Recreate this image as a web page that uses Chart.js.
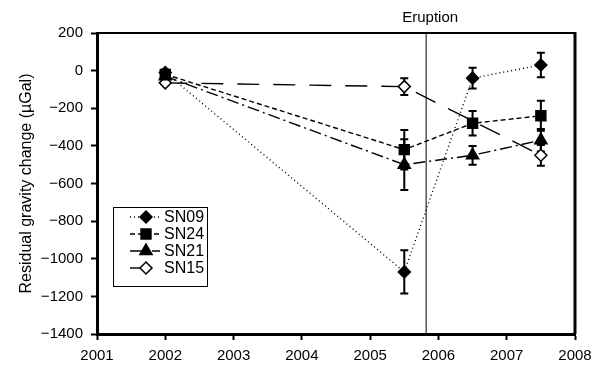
<!DOCTYPE html>
<html>
<head>
<meta charset="utf-8">
<script src="https://cdn.jsdelivr.net/npm/chart.js@4.4.0/dist/chart.umd.min.js"></script>
<style>
  html, body { margin: 0; padding: 0; background: #fff; }
  #wrap { width: 603px; height: 366px; }
</style>
</head>
<body>
<div id="wrap"><canvas id="chart1" width="603" height="366"></canvas></div>
<script>
// values
var years = [2002, 2005.5, 2006.5, 2007.5];
var years15 = [2002, 2005.5, 2007.5];
var sn09 = [-10, -1070, -40, 30];
var sn09err = [15, 115, 55, 65];
var sn24 = [-20, -420, -280, -240];
var sn24err = [15, 105, 65, 80];
var sn21 = [-30, -500, -450, -370];
var sn21err = [15, 135, 50, 60];
var sn15 = [-65, -85, -450];
var sn15err = [10, 45, 55];
var eruptionYear = 2005.82;
var xTicks = [2001, 2002, 2003, 2004, 2005, 2006, 2007, 2008];
var yTicks = [200, 0, -200, -400, -600, -800, -1000, -1200, -1400];

var FONT = "'Liberation Sans', Arial, sans-serif";

function pts(xs, ys) {
	return xs.map(function(x, i) { return { x: x, y: ys[i] }; });
}

var seriesList = [
	{ label: 'SN09', x: years, y: sn09, err: sn09err, dash: [1, 3], style: 'rectRot', r: 6, fill: '#000' },
	{ label: 'SN24', x: years, y: sn24, err: sn24err, dash: [5, 3], style: 'rect', r: 7, fill: '#000' },
	{ label: 'SN21', x: years, y: sn21, err: sn21err, dash: [12, 4, 2, 4], style: 'triangle', r: 7, fill: '#000' },
	{ label: 'SN15', x: years15, y: sn15, err: sn15err, dash: [22, 14], style: 'rectRot', r: 6, fill: '#fff' }
];

var datasets = seriesList.map(function(s) {
	return {
		label: s.label,
		data: pts(s.x, s.y),
		errors: s.err,
		borderColor: '#000',
		borderWidth: 1.4,
		borderDash: s.dash,
		pointStyle: s.style,
		pointRadius: s.r,
		pointHoverRadius: s.r,
		pointBackgroundColor: s.fill,
		pointBorderColor: '#000',
		pointBorderWidth: 1.5,
		fill: false,
		tension: 0
	};
});

// error bars, eruption line, frame and legend box
var extras = {
	id: 'extras',
	beforeDatasetsDraw: function(chart) {
		var ctx = chart.ctx, xs = chart.scales.x, ys = chart.scales.y, a = chart.chartArea;
		ctx.save();
		// eruption marker
		var ex = xs.getPixelForValue(eruptionYear);
		ctx.strokeStyle = '#000';
		ctx.lineWidth = 1;
		ctx.beginPath();
		ctx.moveTo(ex, a.top);
		ctx.lineTo(ex, a.bottom);
		ctx.stroke();
		ctx.fillStyle = '#000';
		ctx.font = '15px ' + FONT;
		ctx.textAlign = 'center';
		ctx.textBaseline = 'bottom';
		ctx.fillText('Eruption', ex + 4, a.top - 8);
		// error bars
		ctx.lineWidth = 2;
		chart.data.datasets.forEach(function(ds) {
			ds.data.forEach(function(p, i) {
				var px = xs.getPixelForValue(p.x);
				var y1 = ys.getPixelForValue(p.y + ds.errors[i]);
				var y2 = ys.getPixelForValue(p.y - ds.errors[i]);
				ctx.beginPath();
				ctx.moveTo(px, y1); ctx.lineTo(px, y2);
				ctx.moveTo(px - 4, y1); ctx.lineTo(px + 4, y1);
				ctx.moveTo(px - 4, y2); ctx.lineTo(px + 4, y2);
				ctx.stroke();
			});
		});
		ctx.restore();
	},
	afterDraw: function(chart) {
		var ctx = chart.ctx, a = chart.chartArea;
		ctx.save();
		ctx.strokeStyle = '#000';
		ctx.lineWidth = 2;
		ctx.beginPath();
		ctx.moveTo(a.left, a.top);
		ctx.lineTo(a.right, a.top);
		ctx.stroke();
		ctx.lineWidth = 3;
		ctx.beginPath();
		ctx.moveTo(a.right, a.top - 1);
		ctx.lineTo(a.right, a.bottom);
		ctx.stroke();

		// legend box
		var bx = 113, by = 207, bw = 94, bh = 79;
		ctx.lineWidth = 1;
		ctx.fillStyle = '#fff';
		ctx.fillRect(bx, by, bw, bh);
		ctx.strokeRect(bx + 0.5, by + 0.5, bw, bh);
		ctx.font = '16px ' + FONT;
		ctx.textAlign = 'left';
		ctx.textBaseline = 'middle';
		chart.data.datasets.forEach(function(ds, i) {
			var ly = 217 + i * 17;
			ctx.setLineDash(ds.borderDash);
			ctx.lineWidth = 1.4;
			ctx.beginPath();
			ctx.moveTo(130, ly);
			ctx.lineTo(160, ly);
			ctx.stroke();
			ctx.setLineDash([]);
			ctx.fillStyle = ds.pointBackgroundColor;
			ctx.lineWidth = 1.5;
			Chart.helpers.drawPoint(ctx, { pointStyle: ds.pointStyle, radius: ds.pointRadius, borderWidth: 1.5, rotation: 0 }, 146, ly);
			ctx.fillStyle = '#000';
			ctx.fillText(ds.label, 164, ly + 1);
		});
		ctx.restore();
	}
};

function minus(v) {
	return v < 0 ? '\u2212' + Math.abs(v) : String(v);
}

new Chart(document.getElementById('chart1'), {
	type: 'line',
	data: { datasets: datasets },
	plugins: [extras],
	options: {
		responsive: false,
		animation: false,
		events: [],
		layout: { padding: { left: 17, right: 28, top: 33, bottom: 0 } },
		plugins: { legend: { display: false }, tooltip: { enabled: false } },
		scales: {
			x: {
				type: 'linear',
				min: 2001, max: 2008,
				afterBuildTicks: function(s) { s.ticks = xTicks.map(function(v) { return { value: v }; }); },
				ticks: { color: '#000', font: { family: FONT, size: 15 }, padding: 7, maxRotation: 0,
					callback: function(v) { return String(v); } },
				grid: { drawOnChartArea: false, tickLength: 6, tickWidth: 2, tickColor: '#000' },
				border: { display: true, width: 3, color: '#000' },
				afterFit: function(s) { s.height = 32; }
			},
			y: {
				min: -1400, max: 200,
				afterBuildTicks: function(s) { s.ticks = yTicks.map(function(v) { return { value: v }; }); },
				ticks: { color: '#000', font: { family: FONT, size: 15 }, padding: 8, callback: minus },
				grid: { drawOnChartArea: false, tickLength: 6, tickWidth: 2, tickColor: '#000' },
				border: { display: true, width: 3, color: '#000' },
				title: { display: true, text: 'Residual gravity change (\u00b5Gal)', color: '#000',
					font: { family: FONT, size: 16 }, padding: { top: 0, bottom: 4 } },
				afterFit: function(s) { s.width = 80; }
			}
		}
	}
});
</script>
</body>
</html>
